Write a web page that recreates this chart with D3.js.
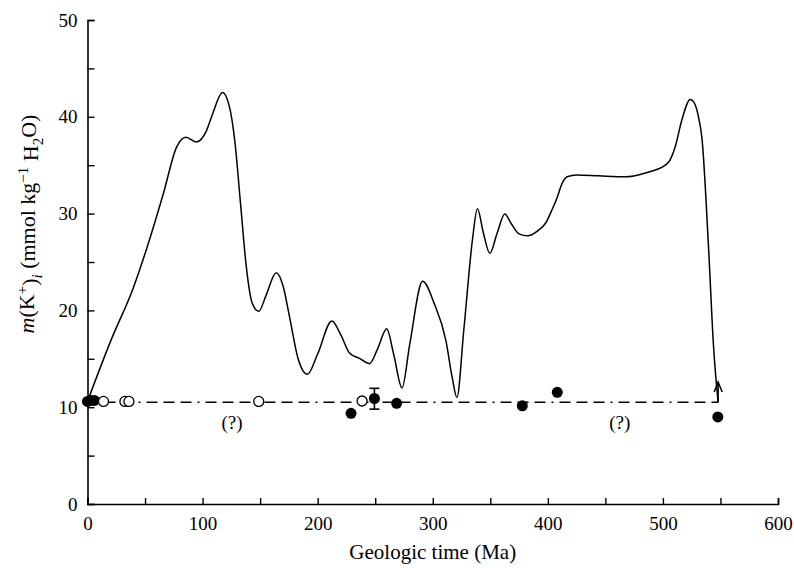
<!DOCTYPE html>
<html>
<head>
<meta charset="utf-8">
<script src="https://cdn.jsdelivr.net/npm/d3@7"></script>
</head>
<body style="margin:0">
<div id="chart"></div>
<script>

// curve: K+ concentration through time
var curveAge = [0, 20, 40, 52, 66, 77.5, 85.5, 94.8, 103.5, 109, 117.3, 123, 128, 133, 138, 143,
                148.8, 155, 164, 170, 175.6, 183, 191, 200, 212.3, 220, 227.6, 236.3, 245, 252, 260,
                266, 273.3, 280, 291.2, 301.3, 311.4, 317, 321, 327, 334.5, 338.8, 344, 349.6, 356,
                362.6, 368, 375, 382.2, 392, 398, 404, 408.2, 412, 416.8, 425, 444.3, 467.4, 484.8,
                502, 506, 510.7, 516.5, 523.8, 527, 530.9, 534, 539.6, 544, 548];
var curveK = [10.6, 16.8, 22.4, 26.6, 32.1, 36.9, 37.9, 37.4, 38.6, 40.4, 42.5, 41.2, 37.5, 31, 24.5, 20.8,
              19.9, 21.5, 23.9, 22.5, 19.3, 15, 13.4, 15.5, 18.9, 17.5, 15.6, 15.05, 14.5, 16, 18.1,
              15.5, 12.0, 16.5, 23.0, 20.7, 16.9, 13, 11.0, 18, 27.3, 30.5, 28, 25.9, 28,
              29.96, 29, 27.9, 27.7, 28.3, 29, 30.5, 31.7, 33, 33.8, 34, 33.9, 33.8, 34.2,
              35.0, 35.5, 36.9, 39.7, 41.8, 41.5, 40.0, 37.7, 26.6, 16.25, 10.5];

// fluid inclusion data
var filledAge = [0, 3, 6, 229, 249.3, 268.6, 377.8, 408.2, 547.7];
var filledK   = [10.6, 10.7, 10.7, 9.37, 10.9, 10.4, 10.15, 11.54, 9.0];
var openAge   = [13.9, 32.5, 36, 148.8, 238.6];
var openK     = [10.6, 10.6, 10.6, 10.6, 10.64];
var errAge = [249.3];
var errLow = [9.8];
var errHigh = [11.95];

var seawaterK = 10.5;      // dashed reference line
var seawaterEnd = 548;
var arrowK = 12.6;
var questionAge = [125.6, 462.5];
var questionK = 8.4;

var w = 794;
var h = 568;
var fontName = "\"Liberation Serif\", \"Times New Roman\", Times, serif";

var svg = d3.select("#chart")
            .append("svg")
              .attr("width", w)
              .attr("height", h)
              .style("font-family", fontName);

var xScale = d3.scaleLinear().domain([0, 600]).range([87.5, 778]);
var yScale = d3.scaleLinear().domain([0, 50]).range([504, 20]);

// axes
var x_axis = d3.axisBottom(xScale)
               .tickValues(d3.range(0, 601, 50))
               .tickSize(-6)
               .tickPadding(13)
               .tickFormat(function(d) { return d % 100 === 0 ? d : ""; });

var y_axis = d3.axisLeft(yScale)
               .tickValues(d3.range(0, 51, 5))
               .tickSize(-7)
               .tickPadding(10)
               .tickFormat(function(d) { return d % 10 === 0 ? d : ""; });

var gx = svg.append("g")
   .attr("transform", "translate(0," + yScale(0) + ")")
   .call(x_axis);

var gy = svg.append("g")
   .attr("transform", "translate(" + xScale(0) + ",0)")
   .call(y_axis);

[gx, gy].forEach(function(g) {
  g.attr("font-family", null).attr("font-size", null);
  g.select(".domain").attr("stroke", "#000").attr("stroke-width", 1.6);
  g.selectAll(".tick line").attr("stroke", "#000").attr("stroke-width", 1.4);
  g.selectAll(".tick text").attr("fill", "#000")
   .style("font-family", fontName).style("font-size", "19px");
});

// dashed seawater line
svg.append("line")
   .attr("x1", xScale(0)).attr("x2", xScale(seawaterEnd))
   .attr("y1", yScale(seawaterK)).attr("y2", yScale(seawaterK))
   .attr("stroke", "#000")
   .attr("stroke-width", 1.5)
   .attr("stroke-dasharray", "11,6,11,6,11,6,2,6");

// main curve
var line = d3.line()
             .x(function(d) { return xScale(d[0]); })
             .y(function(d) { return yScale(d[1]); })
             .curve(d3.curveMonotoneX);

svg.append("path")
   .datum(d3.zip(curveAge, curveK))
   .attr("d", line)
   .attr("fill", "none")
   .attr("stroke", "#000")
   .attr("stroke-width", 1.5);

// arrow head at end of curve pointing up
var ax = xScale(seawaterEnd), ay = yScale(arrowK);
svg.append("path")
   .attr("d", "M" + (ax - 4) + "," + (ay + 10) + "L" + ax + "," + ay + "L" + (ax + 4) + "," + (ay + 10))
   .attr("fill", "none")
   .attr("stroke", "#000")
   .attr("stroke-width", 1.5);
svg.append("line")
   .attr("x1", ax).attr("x2", ax)
   .attr("y1", ay).attr("y2", yScale(seawaterK))
   .attr("stroke", "#000")
   .attr("stroke-width", 1.5);

// error bar
errAge.forEach(function(a, i) {
  var g = svg.append("g").attr("stroke", "#000").attr("stroke-width", 1.6);
  g.append("line").attr("x1", xScale(a)).attr("x2", xScale(a))
   .attr("y1", yScale(errLow[i])).attr("y2", yScale(errHigh[i]));
  g.append("line").attr("x1", xScale(a) - 5).attr("x2", xScale(a) + 5)
   .attr("y1", yScale(errLow[i])).attr("y2", yScale(errLow[i]));
  g.append("line").attr("x1", xScale(a) - 5).attr("x2", xScale(a) + 5)
   .attr("y1", yScale(errHigh[i])).attr("y2", yScale(errHigh[i]));
});

// filled circles
svg.selectAll("circle.filled")
   .data(d3.zip(filledAge, filledK))
   .enter()
   .append("circle")
   .attr("class", "filled")
   .attr("cx", function(d) { return xScale(d[0]); })
   .attr("cy", function(d) { return yScale(d[1]); })
   .attr("r", 5.5)
   .attr("fill", "#000");

// open circles
svg.selectAll("circle.open")
   .data(d3.zip(openAge, openK))
   .enter()
   .append("circle")
   .attr("class", "open")
   .attr("cx", function(d) { return xScale(d[0]); })
   .attr("cy", function(d) { return yScale(d[1]); })
   .attr("r", 5)
   .attr("fill", "#fff")
   .attr("stroke", "#000")
   .attr("stroke-width", 1.3);

// (?) labels
svg.selectAll("text.q")
   .data(questionAge)
   .enter()
   .append("text")
   .attr("class", "q")
   .attr("x", function(d) { return xScale(d); })
   .attr("y", yScale(questionK))
   .attr("dy", "0.35em")
   .attr("text-anchor", "middle")
   .style("font-family", fontName)
   .style("font-size", "19px")
   .text("(?)");

// axis titles
svg.append("text")
   .attr("x", (xScale(0) + xScale(600)) / 2)
   .attr("y", 559)
   .attr("text-anchor", "middle")
   .style("font-family", fontName)
   .style("font-size", "21px")
   .text("Geologic time (Ma)");

var yl = svg.append("text")
   .attr("transform", "translate(34,224) rotate(-90)")
   .attr("text-anchor", "middle")
   .style("font-family", fontName)
   .style("font-size", "22px");
yl.append("tspan").style("font-style", "italic").text("m");
yl.append("tspan").text("(K");
yl.append("tspan").attr("dy", "-0.45em").style("font-size", "15px").text("+");
yl.append("tspan").attr("dy", "0.45em").text(")");
yl.append("tspan").attr("dy", "0.3em").style("font-size", "15px").style("font-style", "italic").text("i");
yl.append("tspan").attr("dy", "-0.3em").text(" (mmol kg");
yl.append("tspan").attr("dy", "-0.45em").style("font-size", "15px").text("\u22121");
yl.append("tspan").attr("dy", "0.45em").text(" H");
yl.append("tspan").attr("dy", "0.3em").style("font-size", "15px").text("2");
yl.append("tspan").attr("dy", "-0.3em").text("O)");

</script>
</body>
</html>
